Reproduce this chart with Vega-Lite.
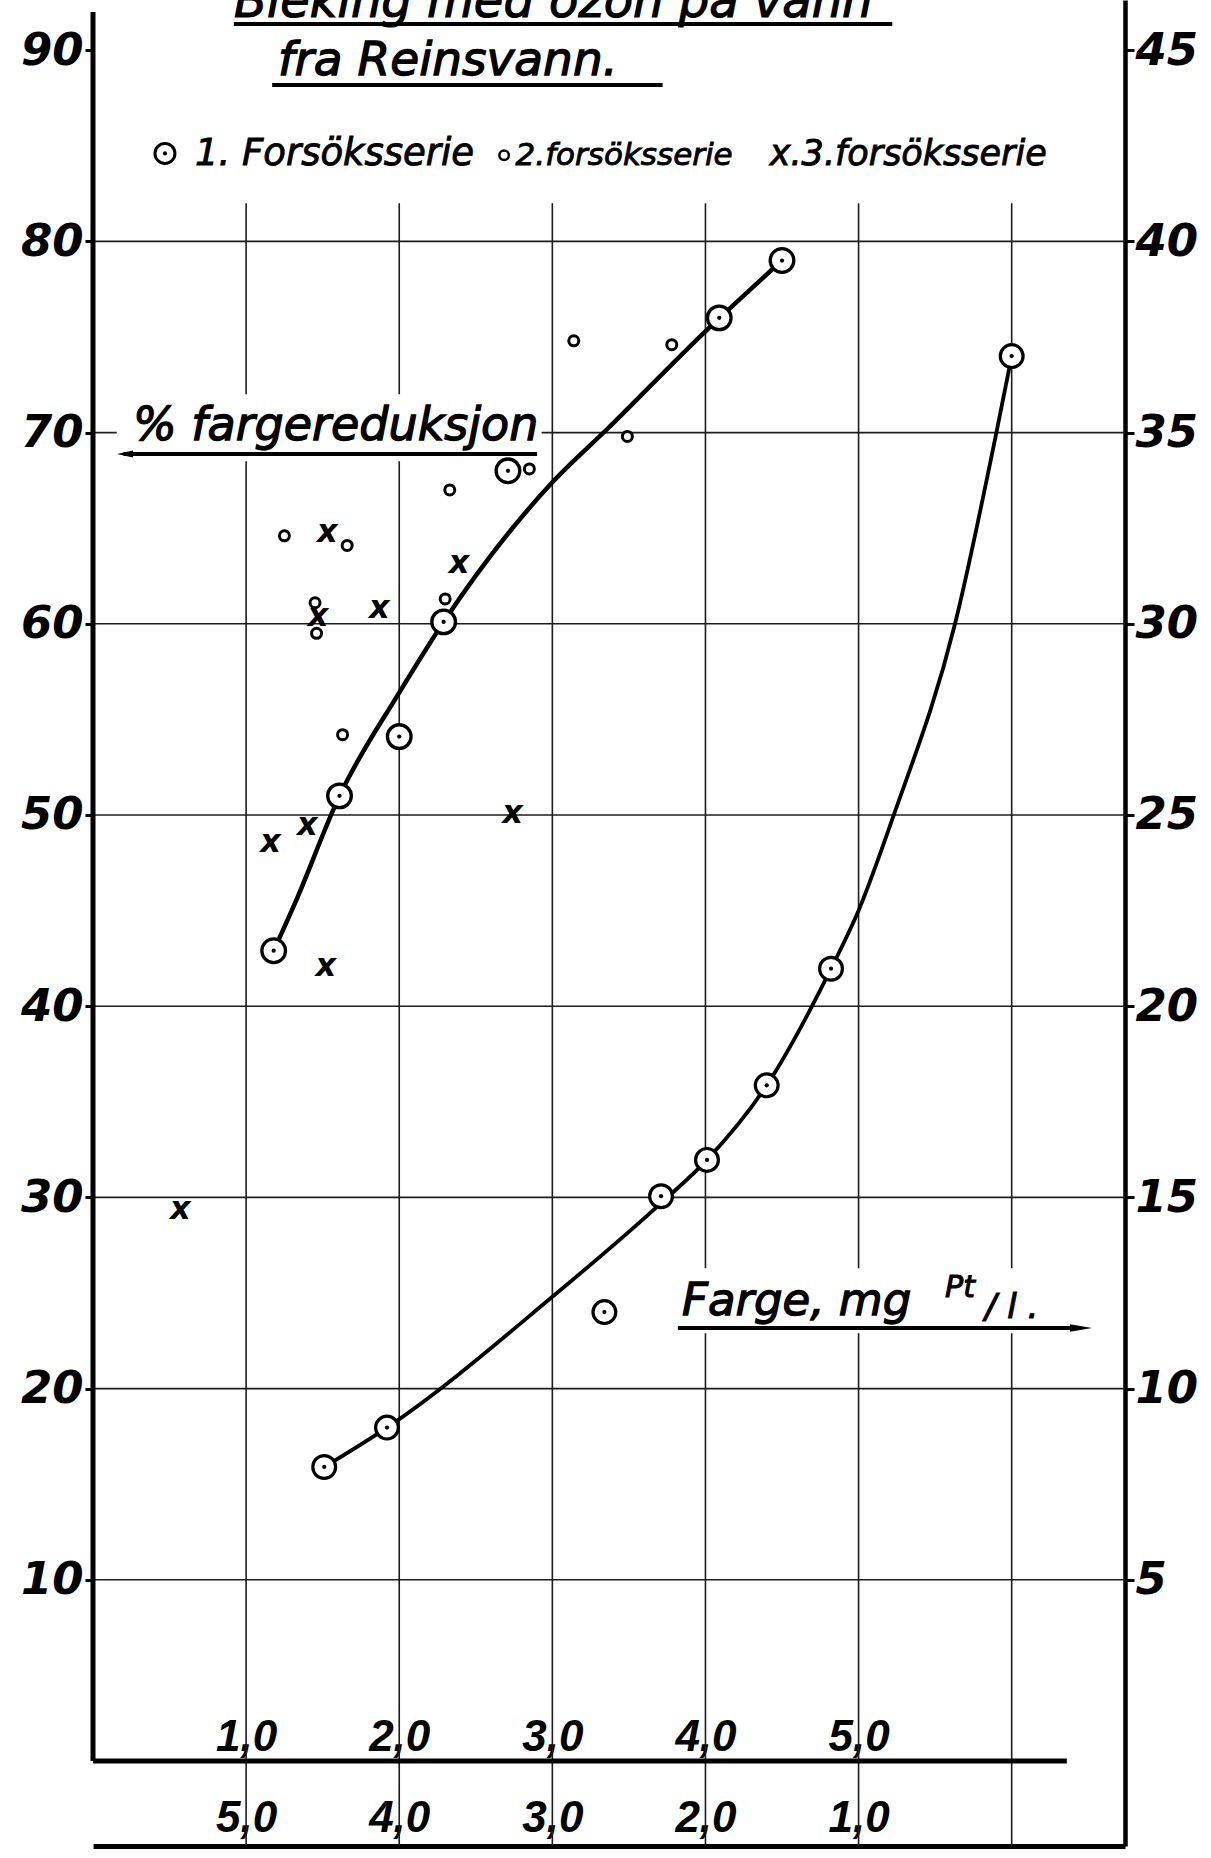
{
  "$schema": "https://vega.github.io/schema/vega-lite/v6.json",
  "width": 1032,
  "height": 1846,
  "autosize": {"type": "none"},
  "padding": {"left": 93, "top": 0, "right": 86, "bottom": 12},
  "background": "white",
  "config": {
    "view": {"stroke": null},
    "axis": {"labelFont": "DejaVu Sans", "labelFontStyle": "italic", "labelFontWeight": "bold", "labelColor": "black", "labelFlush": false, "labelOverlap": false, "tickColor": "black", "domainColor": "black"}
  },
  "datasets": {
    "reduksjon_punkter": [
      {"serie": 1, "dose": 1.18, "reduksjon": 42.9},
      {"serie": 1, "dose": 1.61, "reduksjon": 51.0},
      {"serie": 1, "dose": 2.0, "reduksjon": 54.1},
      {"serie": 1, "dose": 2.29, "reduksjon": 60.1},
      {"serie": 1, "dose": 2.71, "reduksjon": 68.0},
      {"serie": 1, "dose": 4.09, "reduksjon": 76.0},
      {"serie": 1, "dose": 4.5, "reduksjon": 79.0},
      {"serie": 2, "dose": 1.25, "reduksjon": 64.6},
      {"serie": 2, "dose": 1.66, "reduksjon": 64.1},
      {"serie": 2, "dose": 1.45, "reduksjon": 61.1},
      {"serie": 2, "dose": 1.46, "reduksjon": 59.5},
      {"serie": 2, "dose": 1.63, "reduksjon": 54.2},
      {"serie": 2, "dose": 2.33, "reduksjon": 67.0},
      {"serie": 2, "dose": 2.3, "reduksjon": 61.3},
      {"serie": 2, "dose": 2.85, "reduksjon": 68.1},
      {"serie": 2, "dose": 3.14, "reduksjon": 74.8},
      {"serie": 2, "dose": 3.49, "reduksjon": 69.8},
      {"serie": 2, "dose": 3.78, "reduksjon": 74.6},
      {"serie": 3, "dose": 1.53, "reduksjon": 64.8},
      {"serie": 3, "dose": 1.47, "reduksjon": 60.4},
      {"serie": 3, "dose": 1.87, "reduksjon": 60.8},
      {"serie": 3, "dose": 2.39, "reduksjon": 63.2},
      {"serie": 3, "dose": 1.16, "reduksjon": 48.6},
      {"serie": 3, "dose": 1.4, "reduksjon": 49.5},
      {"serie": 3, "dose": 2.74, "reduksjon": 50.1},
      {"serie": 3, "dose": 1.52, "reduksjon": 42.1},
      {"serie": 3, "dose": 0.57, "reduksjon": 29.4}
    ],
    "reduksjon_kurve": [
      {"dose": 1.18, "reduksjon": 42.9},
      {"dose": 1.32, "reduksjon": 45.4},
      {"dose": 1.61, "reduksjon": 51.0},
      {"dose": 2.0, "reduksjon": 56.4},
      {"dose": 2.29, "reduksjon": 60.1},
      {"dose": 3.0, "reduksjon": 67.4},
      {"dose": 3.36, "reduksjon": 70.2},
      {"dose": 4.0, "reduksjon": 75.3},
      {"dose": 4.5, "reduksjon": 79.0}
    ],
    "farge_punkter": [
      {"dose": 4.49, "farge": 7.95},
      {"dose": 4.08, "farge": 8.98},
      {"dose": 2.66, "farge": 12.0},
      {"dose": 2.29, "farge": 15.03},
      {"dose": 1.99, "farge": 15.98},
      {"dose": 1.6, "farge": 17.93},
      {"dose": 1.18, "farge": 20.98},
      {"dose": 0.0, "farge": 37.0}
    ],
    "farge_kurve": [
      {"dose": 4.49, "farge": 7.95},
      {"dose": 4.08, "farge": 8.98},
      {"dose": 3.0, "farge": 12.4},
      {"dose": 2.29, "farge": 14.85},
      {"dose": 1.99, "farge": 15.98},
      {"dose": 1.6, "farge": 17.93},
      {"dose": 1.18, "farge": 20.98},
      {"dose": 1.0, "farge": 22.5},
      {"dose": 0.77, "farge": 25.0},
      {"dose": 0.37, "farge": 30.0},
      {"dose": 0.1, "farge": 35.0},
      {"dose": 0.0, "farge": 37.0}
    ]
  },
  "layer": [
    {
      "layer": [
        {
          "data": {"values": [{"u": 1}, {"u": 2}, {"u": 3}, {"u": 4}, {"u": 5}, {"u": 6}]},
          "mark": {"type": "rule", "stroke": "#1c1c1c", "strokeWidth": 1.6},
          "encoding": {
            "x": {"field": "u", "type": "quantitative", "scale": {"domain": [0, 6.74], "nice": false, "zero": false},
              "axis": {"orient": "bottom", "offset": -85, "values": [1, 2, 3, 4, 5], "labelExpr": "replace(format(datum.value, '.1f'), '.', ',')", "domain": false, "ticks": false, "tickSize": 0, "grid": false, "title": null, "labelPadding": -11, "labelBaseline": "alphabetic", "labelFont": "Liberation Sans", "labelFontSize": 44}},
            "y": {"datum": 82, "type": "quantitative", "scale": {"domain": [-3.923, 92.625], "nice": false, "zero": false}},
            "y2": {"datum": -3.923}
          }
        },
        {
          "data": {"values": [{"p": 10}, {"p": 20}, {"p": 30}, {"p": 40}, {"p": 50}, {"p": 60}, {"p": 70}, {"p": 80}]},
          "mark": {"type": "rule", "stroke": "#1c1c1c", "strokeWidth": 1.6},
          "encoding": {
            "y": {"field": "p", "type": "quantitative", "scale": {"domain": [-3.923, 92.625], "nice": false, "zero": false},
              "axis": {"orient": "left", "values": [10, 20, 30, 40, 50, 60, 70, 80, 90], "domain": false, "ticks": true, "tickSize": 8, "tickWidth": 3, "grid": false, "title": null, "labelPadding": 2, "labelFontSize": 45, "labelBaseline": "middle"}},
            "x": {"datum": 0, "type": "quantitative"},
            "x2": {"datum": 6.74}
          }
        },
        {
          "data": {"values": [{}]},
          "mark": {"type": "rect", "fill": "white"},
          "encoding": {
            "x": {"datum": 0.155, "type": "quantitative"}, "x2": {"datum": 2.93},
            "y": {"datum": 68.5, "type": "quantitative"}, "y2": {"datum": 72.0}
          }
        },
        {
          "data": {"values": [{}]},
          "mark": {"type": "rect", "fill": "white"},
          "encoding": {
            "x": {"datum": 3.8, "type": "quantitative"}, "x2": {"datum": 6.56},
            "y": {"datum": 22.9, "type": "quantitative"}, "y2": {"datum": 26.3}
          }
        },
        {
          "data": {"values": [{}]},
          "mark": {"type": "rule", "stroke": "black", "strokeWidth": 5},
          "encoding": {
            "x": {"datum": 0, "type": "quantitative"},
            "y": {"datum": 0.52, "type": "quantitative"}, "y2": {"datum": 92.0}
          }
        },
        {
          "data": {"values": [{}]},
          "mark": {"type": "rule", "stroke": "black", "strokeWidth": 5},
          "encoding": {
            "x": {"datum": 0, "type": "quantitative"}, "x2": {"datum": 6.36},
            "y": {"datum": 0.52, "type": "quantitative"}
          }
        },
        {
          "data": {"name": "reduksjon_kurve"},
          "mark": {"type": "line", "interpolate": "monotone", "stroke": "black", "strokeWidth": 4.5},
          "encoding": {
            "x": {"field": "dose", "type": "quantitative"},
            "y": {"field": "reduksjon", "type": "quantitative"}
          }
        },
        {
          "data": {"name": "reduksjon_punkter"},
          "transform": [{"filter": "datum.serie == 1"}],
          "mark": {"type": "point", "shape": "circle", "size": 560, "fill": "white", "fillOpacity": 1, "stroke": "black", "strokeWidth": 3.3, "opacity": 1},
          "encoding": {
            "x": {"field": "dose", "type": "quantitative"},
            "y": {"field": "reduksjon", "type": "quantitative"}
          }
        },
        {
          "data": {"name": "reduksjon_punkter"},
          "transform": [{"filter": "datum.serie == 1"}],
          "mark": {"type": "point", "shape": "circle", "size": 18, "filled": true, "color": "black", "opacity": 1},
          "encoding": {
            "x": {"field": "dose", "type": "quantitative"},
            "y": {"field": "reduksjon", "type": "quantitative"}
          }
        },
        {
          "data": {"name": "reduksjon_punkter"},
          "transform": [{"filter": "datum.serie == 2"}],
          "mark": {"type": "point", "shape": "circle", "size": 100, "fill": "white", "fillOpacity": 1, "stroke": "black", "strokeWidth": 3, "opacity": 1},
          "encoding": {
            "x": {"field": "dose", "type": "quantitative"},
            "y": {"field": "reduksjon", "type": "quantitative"}
          }
        },
        {
          "data": {"name": "reduksjon_punkter"},
          "transform": [{"filter": "datum.serie == 3"}],
          "mark": {"type": "text", "text": "x", "font": "DejaVu Sans", "fontStyle": "italic", "fontWeight": "bold", "fontSize": 32, "align": "center", "baseline": "middle", "color": "black"},
          "encoding": {
            "x": {"field": "dose", "type": "quantitative"},
            "y": {"field": "reduksjon", "type": "quantitative"}
          }
        },
        {
          "data": {"values": [{}]},
          "mark": {"type": "text", "text": "Bleking med ozon på vann", "font": "DejaVu Sans", "fontStyle": "italic", "fontSize": 48, "align": "left", "baseline": "alphabetic", "color": "black", "stroke": "black", "strokeWidth": 1.2},
          "encoding": {
            "x": {"datum": 0.921, "type": "quantitative"},
            "y": {"datum": 91.74, "type": "quantitative"}
          }
        },
        {
          "data": {"values": [{}]},
          "mark": {"type": "rule", "stroke": "black", "strokeWidth": 4},
          "encoding": {
            "x": {"datum": 0.92, "type": "quantitative"}, "x2": {"datum": 5.22},
            "y": {"datum": 91.37, "type": "quantitative"}
          }
        },
        {
          "data": {"values": [{}]},
          "mark": {"type": "text", "text": "fra Reinsvann.", "font": "DejaVu Sans", "fontStyle": "italic", "fontSize": 47, "align": "left", "baseline": "alphabetic", "color": "black", "stroke": "black", "strokeWidth": 1.3},
          "encoding": {
            "x": {"datum": 1.208, "type": "quantitative"},
            "y": {"datum": 88.7, "type": "quantitative"}
          }
        },
        {
          "data": {"values": [{}]},
          "mark": {"type": "rule", "stroke": "black", "strokeWidth": 4},
          "encoding": {
            "x": {"datum": 1.17, "type": "quantitative"}, "x2": {"datum": 3.72},
            "y": {"datum": 88.18, "type": "quantitative"}
          }
        },
        {
          "data": {"values": [{}]},
          "mark": {"type": "point", "shape": "circle", "size": 400, "fill": "white", "fillOpacity": 1, "stroke": "black", "strokeWidth": 3, "opacity": 1},
          "encoding": {
            "x": {"datum": 0.47, "type": "quantitative"},
            "y": {"datum": 84.6, "type": "quantitative"}
          }
        },
        {
          "data": {"values": [{}]},
          "mark": {"type": "point", "shape": "circle", "size": 18, "filled": true, "color": "black", "opacity": 1},
          "encoding": {
            "x": {"datum": 0.47, "type": "quantitative"},
            "y": {"datum": 84.6, "type": "quantitative"}
          }
        },
        {
          "data": {"values": [{}]},
          "mark": {"type": "text", "text": "1. Forsöksserie", "font": "DejaVu Sans", "fontStyle": "italic", "fontSize": 37, "align": "left", "baseline": "alphabetic", "color": "black", "stroke": "black", "strokeWidth": 0.9},
          "encoding": {
            "x": {"datum": 0.666, "type": "quantitative"},
            "y": {"datum": 84.0, "type": "quantitative"}
          }
        },
        {
          "data": {"values": [{}]},
          "mark": {"type": "point", "shape": "circle", "size": 90, "fill": "white", "fillOpacity": 1, "stroke": "black", "strokeWidth": 2.5, "opacity": 1},
          "encoding": {
            "x": {"datum": 2.685, "type": "quantitative"},
            "y": {"datum": 84.5, "type": "quantitative"}
          }
        },
        {
          "data": {"values": [{}]},
          "mark": {"type": "text", "text": "2.forsöksserie", "font": "DejaVu Sans", "fontStyle": "italic", "fontSize": 31, "align": "left", "baseline": "alphabetic", "color": "black", "stroke": "black", "strokeWidth": 0.9},
          "encoding": {
            "x": {"datum": 2.76, "type": "quantitative"},
            "y": {"datum": 84.0, "type": "quantitative"}
          }
        },
        {
          "data": {"values": [{}]},
          "mark": {"type": "text", "text": "x.3.forsöksserie", "font": "DejaVu Sans", "fontStyle": "italic", "fontSize": 35, "align": "left", "baseline": "alphabetic", "color": "black", "stroke": "black", "strokeWidth": 0.9},
          "encoding": {
            "x": {"datum": 4.42, "type": "quantitative"},
            "y": {"datum": 84.0, "type": "quantitative"}
          }
        },
        {
          "data": {"values": [{}]},
          "mark": {"type": "text", "text": "% fargereduksjon", "font": "DejaVu Sans", "fontStyle": "italic", "fontSize": 46, "align": "left", "baseline": "alphabetic", "color": "black", "stroke": "black", "strokeWidth": 1.3},
          "encoding": {
            "x": {"datum": 0.261, "type": "quantitative"},
            "y": {"datum": 69.61, "type": "quantitative"}
          }
        },
        {
          "data": {"values": [{}]},
          "mark": {"type": "rule", "stroke": "black", "strokeWidth": 4},
          "encoding": {
            "x": {"datum": 0.2, "type": "quantitative"}, "x2": {"datum": 2.9},
            "y": {"datum": 68.88, "type": "quantitative"}
          }
        },
        {
          "data": {"values": [{}]},
          "mark": {"type": "point", "shape": "M-1,0L1,-0.45L1,0.45Z", "size": 256, "filled": true, "color": "black", "opacity": 1},
          "encoding": {
            "x": {"datum": 0.209, "type": "quantitative"},
            "y": {"datum": 68.88, "type": "quantitative"}
          }
        },
        {
          "data": {"values": [{}]},
          "mark": {"type": "text", "text": "Farge, mg", "font": "DejaVu Sans", "fontStyle": "italic", "fontSize": 45, "align": "left", "baseline": "alphabetic", "color": "black", "stroke": "black", "strokeWidth": 1.3},
          "encoding": {
            "x": {"datum": 3.847, "type": "quantitative"},
            "y": {"datum": 23.85, "type": "quantitative"}
          }
        },
        {
          "data": {"values": [{}]},
          "mark": {"type": "text", "text": "Pt", "font": "DejaVu Sans", "fontStyle": "italic", "fontSize": 30, "align": "left", "baseline": "alphabetic", "color": "black", "stroke": "black", "strokeWidth": 1},
          "encoding": {
            "x": {"datum": 5.565, "type": "quantitative"},
            "y": {"datum": 24.79, "type": "quantitative"}
          }
        },
        {
          "data": {"values": [{}]},
          "mark": {"type": "text", "text": "/ l .", "font": "DejaVu Sans", "fontStyle": "italic", "fontSize": 34, "align": "left", "baseline": "alphabetic", "color": "black", "stroke": "black", "strokeWidth": 1.1},
          "encoding": {
            "x": {"datum": 5.826, "type": "quantitative"},
            "y": {"datum": 23.69, "type": "quantitative"}
          }
        },
        {
          "data": {"values": [{}]},
          "mark": {"type": "rule", "stroke": "black", "strokeWidth": 4},
          "encoding": {
            "x": {"datum": 3.82, "type": "quantitative"}, "x2": {"datum": 6.45},
            "y": {"datum": 23.17, "type": "quantitative"}
          }
        },
        {
          "data": {"values": [{}]},
          "mark": {"type": "point", "shape": "M1,0L-1,-0.35L-1,0.35Z", "size": 484, "filled": true, "color": "black", "opacity": 1},
          "encoding": {
            "x": {"datum": 6.453, "type": "quantitative"},
            "y": {"datum": 23.17, "type": "quantitative"}
          }
        }
      ]
    },
    {
      "layer": [
        {
          "data": {"name": "farge_kurve"},
          "mark": {"type": "line", "interpolate": "monotone", "stroke": "black", "strokeWidth": 3.8},
          "encoding": {
            "x": {"field": "dose", "type": "quantitative", "scale": {"domain": [-0.74, 6], "reverse": true, "nice": false, "zero": false},
              "axis": {"orient": "bottom", "values": [1, 2, 3, 4, 5], "labelExpr": "replace(format(datum.value, '.1f'), '.', ',')", "domain": true, "domainWidth": 5, "ticks": false, "tickSize": 0, "grid": false, "title": null, "labelPadding": -15, "labelBaseline": "alphabetic", "labelFont": "Liberation Sans", "labelFontSize": 44}},
            "y": {"field": "farge", "type": "quantitative", "scale": {"domain": [-1.9615, 46.3125], "nice": false, "zero": false},
              "axis": {"orient": "right", "values": [5, 10, 15, 20, 25, 30, 35, 40, 45], "domain": true, "domainWidth": 4.5, "ticks": true, "tickSize": 9, "tickWidth": 3, "grid": false, "title": null, "labelPadding": 1, "labelFontSize": 45, "labelBaseline": "middle"}},
            "order": {"field": "dose", "sort": "descending"}
          }
        },
        {
          "data": {"name": "farge_punkter"},
          "mark": {"type": "point", "shape": "circle", "size": 520, "fill": "white", "fillOpacity": 1, "stroke": "black", "strokeWidth": 3.2, "opacity": 1},
          "encoding": {
            "x": {"field": "dose", "type": "quantitative"},
            "y": {"field": "farge", "type": "quantitative"}
          }
        },
        {
          "data": {"name": "farge_punkter"},
          "mark": {"type": "point", "shape": "circle", "size": 18, "filled": true, "color": "black", "opacity": 1},
          "encoding": {
            "x": {"field": "dose", "type": "quantitative"},
            "y": {"field": "farge", "type": "quantitative"}
          }
        }
      ]
    }
  ],
  "resolve": {"scale": {"x": "independent", "y": "independent"}, "axis": {"x": "independent", "y": "independent"}}
}
